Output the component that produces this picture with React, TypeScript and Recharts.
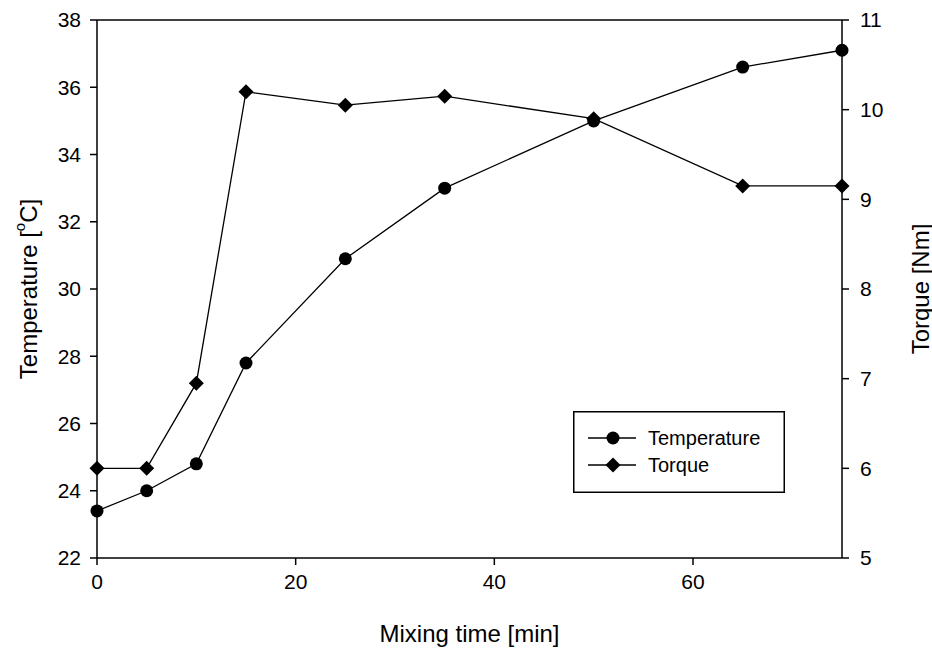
import React from 'react';
import { ComposedChart, Line, XAxis, YAxis, ReferenceLine } from 'recharts';

const minutes = [0, 5, 10, 15, 25, 35, 50, 65, 75];
const temperature = [23.4, 24.0, 24.8, 27.8, 30.9, 33.0, 35.0, 36.6, 37.1];
const torque = [6.0, 6.0, 6.95, 10.2, 10.05, 10.15, 9.9, 9.15, 9.15];

const xTicks = [0, 20, 40, 60];
const tempTicks = [22, 24, 26, 28, 30, 32, 34, 36, 38];
const torqueTicks = [5, 6, 7, 8, 9, 10, 11];

const data = minutes.map((m, i) => ({ time: m, temp: temperature[i], torque: torque[i] }));

const FONT = '"Liberation Sans", Arial, sans-serif';
const tickStyle = { fill: '#000', fontSize: 21, fontFamily: FONT };

const Circle = (props: any) => {
  const { cx, cy } = props;
  if (cx == null || cy == null) return null;
  return <circle cx={cx} cy={cy} r={6.5} fill="#000" />;
};

const Diamond = (props: any) => {
  const { cx, cy } = props;
  if (cx == null || cy == null) return null;
  const s = 7.5;
  return <polygon points={`${cx},${cy - s} ${cx + s},${cy} ${cx},${cy + s} ${cx - s},${cy}`} fill="#000" />;
};

// legend box like SigmaPlot's, laid over the plot
const LegendBox = () => (
  <svg width={212} height={82} style={{ display: 'block' }}>
    <rect x={0.75} y={0.75} width={210.5} height={80.5} fill="#fff" stroke="#000" strokeWidth={1.5} />
    <line x1={15} x2={63} y1={27} y2={27} stroke="#000" strokeWidth={1.3} />
    <circle cx={40} cy={27} r={6.5} fill="#000" />
    <text x={75} y={27} dy="0.35em" fontSize={20} fontFamily={FONT}>Temperature</text>
    <line x1={15} x2={63} y1={54} y2={54} stroke="#000" strokeWidth={1.3} />
    <polygon points="40,46.5 47.5,54 40,61.5 32.5,54" fill="#000" />
    <text x={75} y={54} dy="0.35em" fontSize={20} fontFamily={FONT}>Torque</text>
  </svg>
);

const TempLabel = (props: any) => {
  const { viewBox } = props;
  const cy = viewBox.y + viewBox.height / 2;
  return (
    <text x={28} y={cy} transform={`rotate(-90, 28, ${cy})`} textAnchor="middle" dominantBaseline="central"
      fontSize={24} fontFamily={FONT} fill="#000">
      Temperature [<tspan fontSize={15} dy={-9}>o</tspan><tspan dy={9}>C]</tspan>
    </text>
  );
};

const TorqueLabel = (props: any) => {
  const { viewBox } = props;
  const cy = viewBox.y + viewBox.height / 2;
  return (
    <text x={920} y={cy} transform={`rotate(-90, 920, ${cy})`} textAnchor="middle" dominantBaseline="central"
      fontSize={24} fontFamily={FONT} fill="#000">
      Torque [Nm]
    </text>
  );
};

export default function App() {
  return (
    <div style={{ position: 'absolute', left: 0, top: 0, width: 932, height: 648, background: '#fff' }}>
      <ComposedChart width={932} height={648} data={data} margin={{ top: 20, right: 0, bottom: 0, left: 0 }}>
        <XAxis
          dataKey="time"
          type="number"
          domain={[0, 75]}
          ticks={xTicks}
          height={90}
          tickSize={7}
          tickMargin={9}
          tick={tickStyle}
          stroke="#000"
          strokeWidth={1.5}
          label={{ value: 'Mixing time [min]', position: 'insideBottom', offset: 6, fontSize: 24, fontFamily: FONT, fill: '#000' }}
        />
        <YAxis
          yAxisId="left"
          domain={[22, 38]}
          ticks={tempTicks}
          width={97}
          tickSize={7}
          tickMargin={9}
          tick={tickStyle}
          stroke="#000"
          strokeWidth={1.5}
          label={<TempLabel />}
        />
        <YAxis
          yAxisId="right"
          orientation="right"
          domain={[5, 11]}
          ticks={torqueTicks}
          width={90}
          tickSize={7}
          tickMargin={11}
          tick={tickStyle}
          stroke="#000"
          strokeWidth={1.5}
          label={<TorqueLabel />}
        />
        <ReferenceLine yAxisId="left" y={38} stroke="#000" strokeWidth={1.5} />
        <Line yAxisId="left" dataKey="temp" name="Temperature" stroke="#000" strokeWidth={1.3}
          dot={<Circle />} activeDot={false} isAnimationActive={false} type="linear" />
        <Line yAxisId="right" dataKey="torque" name="Torque" stroke="#000" strokeWidth={1.3}
          dot={<Diamond />} activeDot={false} isAnimationActive={false} type="linear" />
      </ComposedChart>
      <div style={{ position: 'absolute', left: 573, top: 411 }}>
        <LegendBox />
      </div>
    </div>
  );
}
